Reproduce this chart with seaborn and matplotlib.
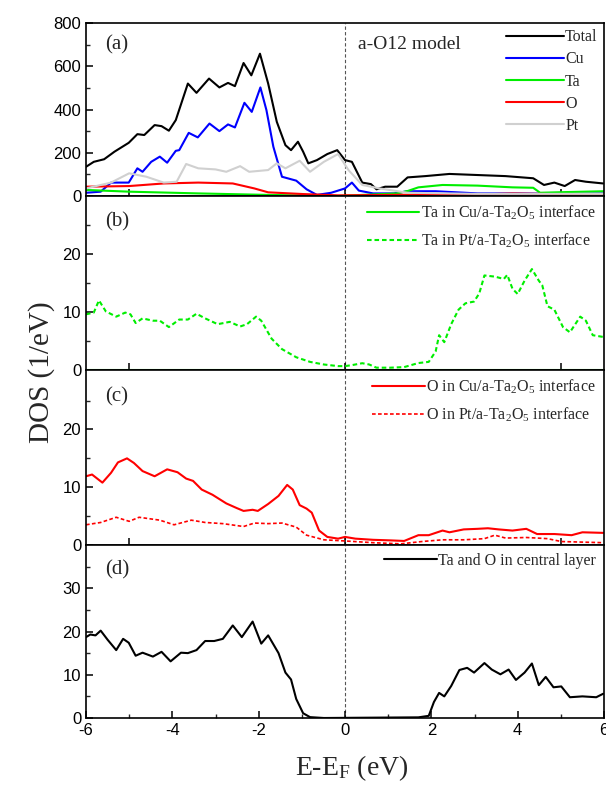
import numpy as np
import pandas as pd
import matplotlib
matplotlib.use("Agg")
import matplotlib.pyplot as plt
import seaborn as sns
from matplotlib.ticker import MultipleLocator, FixedLocator

sns.set_theme(style="ticks")
plt.rcParams['font.family'] = ['Liberation Sans', 'DejaVu Sans']
plt.rcParams['mathtext.fontset'] = 'custom'
plt.rcParams['mathtext.rm'] = 'Liberation Serif'
plt.rcParams['mathtext.default'] = 'regular'

# ---------------- Panel (a) data ----------------
E_total = [-6.0, -5.82, -5.58, -5.34, -5.01, -4.81, -4.65, -4.41, -4.25, -4.08, -3.92, -3.64, -3.44, -3.15,
           -2.91, -2.71, -2.55, -2.35, -2.17, -1.97, -1.78, -1.58, -1.38, -1.25, -1.09, -0.97, -0.85, -0.65,
           -0.41, -0.18, 0.0, 0.16, 0.40, 0.60, 0.73, 0.93, 1.21, 1.45, 1.86, 2.42, 3.07, 3.72, 4.36, 4.61,
           4.85, 5.09, 5.33, 5.58, 5.98]
total = [135, 158, 170, 205, 246, 286, 282, 328, 323, 302, 351, 520, 477, 543,
         502, 523, 508, 615, 558, 658, 520, 343, 235, 212, 251, 205, 151, 166,
         194, 212, 166, 158, 62, 55, 31, 43, 43, 86, 92, 102, 97, 92, 82, 51,
         62, 46, 74, 66, 58]

E_cu = [-6.0, -5.66, -5.42, -5.01, -4.81, -4.69, -4.49, -4.29, -4.12, -3.92, -3.84, -3.62, -3.41, -3.14,
        -2.91, -2.71, -2.55, -2.33, -2.16, -1.96, -1.82, -1.66, -1.46, -1.13, -0.89, -0.65, -0.32, 0.0,
        0.16, 0.32, 0.65, 1.13, 1.45, 2.10, 3.07, 4.0, 5.0, 6.0]
cu = [15, 20, 62, 62, 128, 112, 158, 182, 154, 209, 212, 292, 271, 335,
      300, 331, 317, 431, 389, 502, 397, 228, 89, 71, 31, 5, 15, 35,
      62, 25, 12, 12, 22, 22, 12, 12, 10, 12]

E_ta = [-6.0, -5.0, -3.4, -1.78, -0.16, 1.2, 1.45, 1.7, 2.26, 3.07, 3.88, 4.36, 4.52, 5.09, 6.0]
ta = [28, 20, 12, 5, 0, 12, 23, 40, 51, 48, 40, 38, 15, 18, 22]

E_o = [-6.0, -5.0, -4.2, -3.4, -2.6, -2.1, -1.78, -0.97, -0.16, 1.0, 2.0, 3.0, 3.88, 5.0, 6.0]
o = [43, 46, 58, 62, 58, 35, 17, 9, 3, 5, 7, 6, 12, 8, 9]

E_pt = [-6.0, -5.42, -5.0, -4.6, -4.2, -3.9, -3.68, -3.4, -3.0, -2.75, -2.43, -2.22, -1.78, -1.58,
        -1.38, -1.05, -0.81, -0.49, -0.16, 0.08, 0.40, 0.80, 1.45, 3.0, 4.5, 6.0]
pt = [35, 62, 105, 89, 62, 66, 148, 128, 123, 112, 138, 112, 120, 151,
      128, 163, 112, 158, 194, 120, 51, 35, 15, 10, 10, 10]

# ---------------- Panel (b) data ----------------
E_b_cu = [-6.0, -3.0, 0.0, 3.0, 6.0]
ta_cu_if = [0, 0, 0, 0, 0]
E_b_pt = [-6.0, -5.82, -5.7, -5.54, -5.3, -5.09, -4.97, -4.85, -4.69, -4.45, -4.29, -4.08, -3.84, -3.64,
          -3.44, -3.24, -2.95, -2.67, -2.43, -2.27, -2.06, -1.94, -1.7, -1.46, -1.13, -0.81, -0.49, -0.16,
          0.0, 0.16, 0.40, 0.56, 0.73, 1.05, 1.37, 1.70, 1.94, 2.10, 2.18, 2.30, 2.46, 2.63, 2.79, 2.99,
          3.11, 3.23, 3.47, 3.68, 3.76, 3.88, 4.0, 4.16, 4.33, 4.49, 4.57, 4.69, 4.85, 5.05, 5.21, 5.45,
          5.58, 5.74, 5.98]
ta_pt_if = [9.6, 9.9, 12.0, 10.1, 9.2, 9.9, 9.6, 8.1, 8.9, 8.5, 8.5, 7.4, 8.7, 8.7,
            9.7, 8.9, 7.9, 8.3, 7.5, 7.9, 9.2, 8.5, 5.4, 3.6, 2.2, 1.4, 0.95, 0.67,
            0.67, 0.84, 1.17, 0.95, 0.4, 0.4, 0.5, 1.2, 1.4, 3.2, 6.0, 4.8, 7.9, 10.4, 11.5, 11.8,
            13.2, 16.3, 16.1, 15.7, 16.4, 14.0, 13.1, 15.4, 17.4, 15.4, 14.6, 11.0, 10.4, 7.4, 6.5, 9.2,
            8.5, 6.0, 5.7]

# ---------------- Panel (c) data ----------------
E_c_cu = [-6.0, -5.86, -5.62, -5.42, -5.26, -5.05, -4.89, -4.69, -4.41, -4.12, -3.88, -3.68, -3.52, -3.32,
          -3.07, -2.75, -2.51, -2.35, -2.14, -2.02, -1.78, -1.54, -1.34, -1.21, -1.05, -0.89, -0.77, -0.60,
          -0.41, -0.16, 0.0, 0.24, 0.65, 1.05, 1.37, 1.70, 1.94, 2.26, 2.42, 2.75, 3.07, 3.31, 3.56, 3.88,
          4.20, 4.45, 4.85, 5.25, 5.50, 5.98]
o_cu_if = [11.9, 12.2, 10.8, 12.5, 14.3, 15.0, 14.2, 12.8, 11.9, 13.1, 12.6, 11.5, 11.1, 9.6,
           8.7, 7.2, 6.4, 5.9, 6.1, 5.9, 7.1, 8.5, 10.4, 9.6, 6.9, 6.3, 5.6, 2.5,
           1.4, 1.1, 1.4, 1.1, 0.9, 0.8, 0.7, 1.7, 1.7, 2.5, 2.2, 2.7, 2.8, 2.9, 2.7, 2.5,
           2.8, 1.9, 1.9, 1.7, 2.2, 2.1]
E_c_pt = [-6.0, -5.66, -5.3, -5.0, -4.77, -4.29, -3.96, -3.56, -3.24, -2.83, -2.35, -2.10, -1.78, -1.46,
          -1.13, -0.89, -0.49, 0.0, 0.65, 1.29, 1.78, 2.26, 2.75, 3.23, 3.47, 3.72, 4.20, 4.69, 5.01, 5.98]
o_pt_if = [3.5, 3.9, 4.8, 4.1, 4.8, 4.3, 3.5, 4.3, 3.9, 3.7, 3.2, 3.8, 3.7, 3.8,
           3.1, 1.7, 0.9, 0.7, 0.4, 0.2, 0.6, 0.9, 0.9, 1.1, 1.7, 1.2, 1.3, 1.1, 0.6, 0.4]

# ---------------- Panel (d) data ----------------
E_d = [-6.0, -5.9, -5.78, -5.66, -5.5, -5.3, -5.14, -5.01, -4.85, -4.69, -4.45, -4.25, -4.04, -3.8,
       -3.64, -3.44, -3.24, -3.03, -2.83, -2.6, -2.39, -2.14, -1.94, -1.78, -1.54, -1.38, -1.25, -1.13,
       -0.97, -0.81, -0.49, 1.70, 1.94, 2.06, 2.18, 2.30, 2.46, 2.65, 2.83, 2.99, 3.23, 3.40, 3.60, 3.79,
       3.96, 4.16, 4.33, 4.49, 4.65, 4.83, 5.01, 5.21, 5.50, 5.82, 5.98]
central = [18.7, 19.3, 19.1, 20.2, 18.1, 15.7, 18.3, 17.4, 14.4, 15.1, 14.2, 15.3, 13.1, 15.1,
           15.0, 15.7, 17.8, 17.8, 18.3, 21.4, 18.7, 22.3, 17.2, 19.1, 15.0, 10.5, 8.9, 4.4,
           1.1, 0.2, 0.0, 0.15, 0.5, 3.7, 5.8, 5.0, 7.4, 11.1, 11.6, 10.5, 12.7, 11.2, 10.1, 11.2,
           8.8, 10.5, 12.6, 7.6, 9.5, 7.1, 7.3, 4.8, 5.0, 4.8, 5.6]

GREEN = '#00ee00'
SERIF = ['Liberation Serif', 'DejaVu Serif']
dot = (0, (2.2, 1.4))

fig = plt.figure(figsize=(6.06, 7.87), dpi=100)
L, W = 86 / 606, 518 / 606
tops = [23, 196, 370, 545]
bots = [196, 370, 545, 718]
axes = []
for t, b in zip(tops, bots):
    ax = fig.add_axes([L, 1 - b / 787, W, (b - t) / 787])
    axes.append(ax)
axa, axb, axc, axd = axes

def line(ax, x, y, color, label, ls='-', lw=1.5):
    sns.lineplot(x=x, y=y, ax=ax, color=color, label=label, linestyle=ls, linewidth=lw,
                 sort=False, estimator=None)

line(axa, E_total, total, 'black', 'Total')
line(axa, E_cu, cu, '#0000ff', 'Cu')
line(axa, E_ta, ta, GREEN, 'Ta')
line(axa, E_o, o, '#ff0000', 'O')
line(axa, E_pt, pt, '#d0d0d0', 'Pt')

line(axb, E_b_cu, ta_cu_if, GREEN, 'Ta in Cu/a-Ta$_2$O$_5$ interface')
line(axb, E_b_pt, ta_pt_if, GREEN, 'Ta in Pt/a-Ta$_2$O$_5$ interface', ls=dot)

line(axc, E_c_cu, o_cu_if, '#ff0000', 'O in Cu/a-Ta$_2$O$_5$ interface')
line(axc, E_c_pt, o_pt_if, '#ff0000', 'O in Pt/a-Ta$_2$O$_5$ interface', ls=dot, lw=1.2)

line(axd, E_d, central, 'black', 'Ta and O in central layer')

ylims = [(0, 800), (0, 30), (0, 30.3), (0, 40)]
ymaj = [[0, 200, 400, 600, 800], [0, 10, 20], [0, 10, 20], [0, 10, 20, 30]]
ymin = [[100, 300, 500, 700], [5, 15, 25], [5, 15, 25], [5, 15, 25, 35]]
labels = ['(a)', '(b)', '(c)', '(d)']
laby = [0.875, 0.85, 0.845, 0.855]

for i, ax in enumerate(axes):
    ax.set_xlim(-6, 6)
    ax.set_ylim(*ylims[i])
    ax.axvline(0, color='#555555', lw=0.8, ls=(0, (3, 2)), zorder=0)
    ax.yaxis.set_major_locator(FixedLocator(ymaj[i]))
    ax.yaxis.set_minor_locator(FixedLocator(ymin[i]))
    for s in ax.spines.values():
        s.set_visible(True)
        s.set_color('black')
        s.set_linewidth(1.2)
    ax.tick_params(axis='both', which='major', direction='in', length=5, width=1.1,
                   labelsize=12, colors='black', right=False, top=False)
    ax.tick_params(axis='both', which='minor', direction='in', length=3, width=1.0,
                   right=False, top=False)
    ax.set_xlabel('')
    ax.set_ylabel('')
    ax.text(0.037, laby[i], labels[i], transform=ax.transAxes, fontsize=15,
            family=SERIF, va='center', ha='left')
    if i < 3:
        ax.xaxis.set_major_locator(FixedLocator([-5, 0, 5]))
        ax.tick_params(axis='x', labelbottom=False)
    else:
        ax.xaxis.set_major_locator(MultipleLocator(2))
        ax.xaxis.set_minor_locator(MultipleLocator(1))
        ax.set_xticks([-6, -4, -2, 0, 2, 4, 6])
        ax.set_xticklabels(['-6', '-4', '-2', '0', '2', '4', '6'])

axa.text(0.3, 700, 'a-O12 model', fontsize=14, family=SERIF, ha='left', va='center')

leg_kw = dict(frameon=False, loc='upper right', prop={'family': SERIF, 'size': 11.5},
              handletextpad=0.1, borderaxespad=0.2)
axa.legend(handlelength=3.6, labelspacing=0.38, borderpad=0.2, **leg_kw)
axb.legend(handlelength=3.3, labelspacing=0.6, borderpad=0.3, **leg_kw)
axc.legend(handlelength=3.3, labelspacing=0.6, borderpad=0.3, **leg_kw)
axd.legend(handlelength=3.3, labelspacing=0.6, borderpad=0.3, **leg_kw)

fig.text(42 / 606, 1 - 372 / 787, 'DOS (1/eV)', rotation=90, fontsize=21,
         family=SERIF, ha='center', va='center')
fig.text(352 / 606, 1 - 768 / 787, 'E-E$_F$ (eV)', fontsize=20, family=SERIF,
         ha='center', va='center')

fig.savefig('out.png', dpi=100)
